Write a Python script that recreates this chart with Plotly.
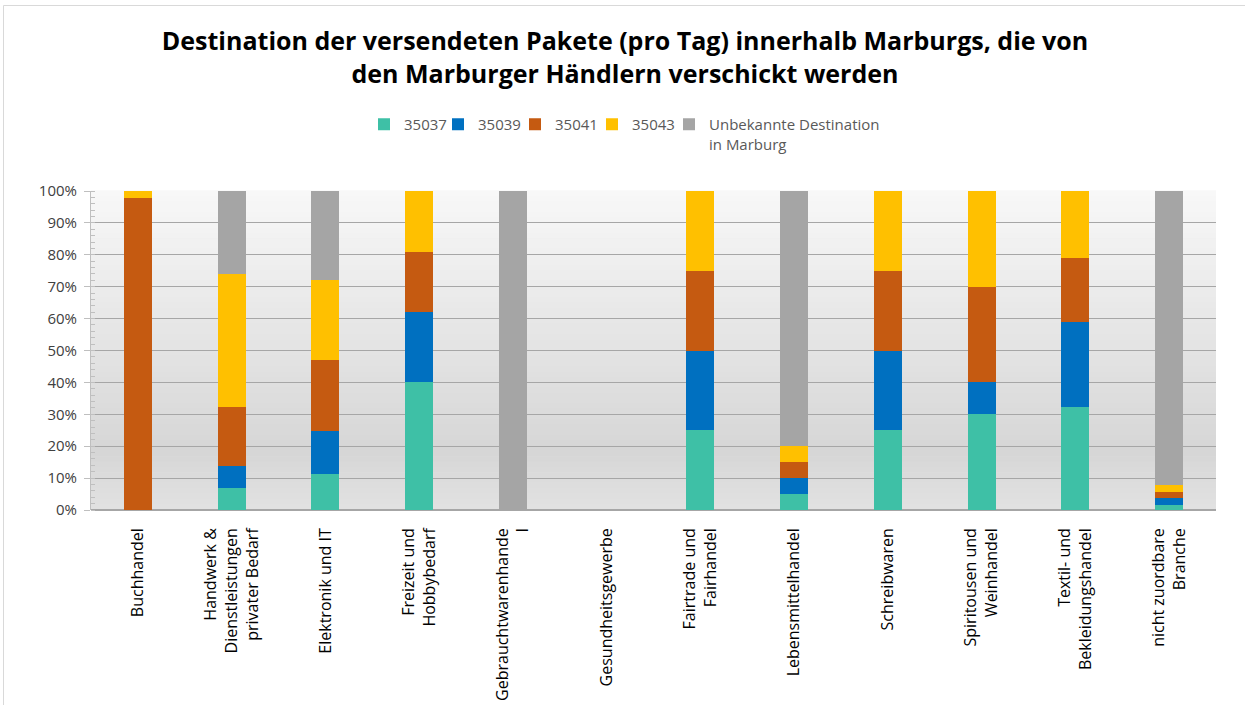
import plotly.graph_objects as go

# categories (line breaks as in the original axis labels)
categories = [
    "Buchhandel",
    "Handwerk &<br>Dienstleistungen<br>privater Bedarf",
    "Elektronik und IT",
    "Freizeit und<br>Hobbybedarf",
    "Gebrauchtwarenhande<br>l",
    "Gesundheitsgewerbe",
    "Fairtrade und<br>Fairhandel",
    "Lebensmittelhandel",
    "Schreibwaren",
    "Spiritousen und<br>Weinhandel",
    "Textil- und<br>Bekleidungshandel",
    "nicht zuordbare<br>Branche",
]

# shares in percent per postcode area
plz_35037 = [0, 6.9, 11.2, 40, 0, 0, 25, 5, 25, 30, 32.4, 1.7]
plz_35039 = [0, 7.0, 13.7, 22, 0, 0, 25, 5, 25, 10, 26.4, 2.1]
plz_35041 = [97.8, 18.5, 22.2, 19, 0, 0, 25, 5, 25, 30, 20.3, 1.9]
plz_35043 = [2.2, 41.6, 25.1, 19, 0, 0, 25, 5, 25, 30, 20.9, 2.1]
unbekannt = [0, 26.0, 27.8, 0, 100, 0, 0, 80, 0, 0, 0, 92.2]

series_names = ["35037", "35039", "35041", "35043", "Unbekannte Destination<br>in Marburg"]
series_values = [plz_35037, plz_35039, plz_35041, plz_35043, unbekannt]
series_colors = ["#3EC0A6", "#0070C0", "#C55A11", "#FFC000", "#A5A5A5"]
# left edge (px) of each legend entry, one legend per series so the
# spacing can follow the original
legend_x_px = [364, 438, 515, 592, 669]

FONT = "Open Sans"
W, H = 1245, 705
ML, MR, MT, MB = 91, 29, 191, 195

fig = go.Figure()
for i, (name, vals, col) in enumerate(zip(series_names, series_values, series_colors)):
    leg = "legend" if i == 0 else f"legend{i + 1}"
    fig.add_trace(
        go.Bar(
            x=categories,
            y=vals,
            name=name,
            legend=leg,
            showlegend=True,
            marker=dict(color=col, line=dict(width=0)),
            hovertemplate="%{y:.1f}%<extra>" + name + "</extra>",
        )
    )

# vertical grey gradient of the plot area, drawn as thin bands
shapes = []
n_bands = 60
top_c, mid_c, bot_c = 248, 214, 226
for i in range(n_bands):
    t = (i + 0.5) / n_bands  # 0 at top, 1 at bottom
    if t < 0.82:
        g = top_c + (mid_c - top_c) * t / 0.82
    else:
        g = mid_c + (bot_c - mid_c) * (t - 0.82) / 0.18
    g = int(round(g))
    shapes.append(
        dict(
            type="rect", xref="paper", yref="paper",
            x0=0, x1=1, y0=1 - (i + 1) / n_bands, y1=1 - i / n_bands + 0.002,
            fillcolor=f"rgb({g},{g},{g})", line=dict(width=0), layer="below",
        )
    )

# thin outer frame of the chart
pw = W - ML - MR
ph = H - MT - MB
shapes.append(
    dict(
        type="rect", xref="paper", yref="paper",
        x0=(3.5 - ML) / pw, x1=(W + 20 - ML) / pw,
        y0=-(H + 20 - MT - ph) / ph, y1=(MT + ph - 5.5) / ph,
        line=dict(color="#D9D9D9", width=1), fillcolor="rgba(0,0,0,0)",
    )
)

legend_style = dict(
    orientation="h",
    font=dict(family=FONT, size=15, color="#595959"),
    itemwidth=30,
    bgcolor="rgba(0,0,0,0)",
    xref="container",
    yref="container",
    yanchor="top",
    valign="top",
    y=1 - 108 / H,
)
legends = {}
for i, lx in enumerate(legend_x_px):
    key = "legend" if i == 0 else f"legend{i + 1}"
    legends[key] = dict(legend_style, x=lx / W, visible=True)

fig.update_layout(
    width=W,
    height=H,
    margin=dict(l=ML, r=MR, t=MT, b=MB),
    paper_bgcolor="white",
    plot_bgcolor="#E6E6E6",
    barmode="stack",
    bargap=0.7,
    showlegend=True,
    font=dict(family=FONT, color="#595959", size=14),
    title=dict(
        text="Destination der versendeten Pakete (pro Tag) innerhalb Marburgs, die von<br>den Marburger Händlern verschickt werden",
        x=625 / W, xref="container", xanchor="center",
        y=1 - 50 / H, yref="container", yanchor="top",
        font=dict(family=FONT, size=25, color="black", weight="bold"),
    ),
    shapes=shapes,
    **legends,
)

fig.update_xaxes(
    tickangle=-90,
    tickfont=dict(family=FONT, size=16, color="black"),
    showgrid=False,
    showline=False,
    ticks="",
    ticklabelstandoff=14,
    automargin=False,
)
fig.update_yaxes(
    range=[0, 100],
    dtick=10,
    ticksuffix="%",
    tickfont=dict(family=FONT, size=15, color="#404040"),
    showgrid=True,
    gridcolor="#A6A6A6",
    gridwidth=1.3,
    zeroline=True,
    zerolinecolor="#A6A6A6",
    showline=True,
    linecolor="#BFBFBF",
    ticks="outside",
    ticklen=6,
    tickcolor="#BFBFBF",
    ticklabelstandoff=4,
    automargin=False,
    minor=dict(ticks="inside", dtick=2, ticklen=4, tickcolor="#BFBFBF", showgrid=False),
)

fig.write_html(
    "out.html",
    config={"displayModeBar": False},
    post_script="document.body.style.margin='0';",
)
